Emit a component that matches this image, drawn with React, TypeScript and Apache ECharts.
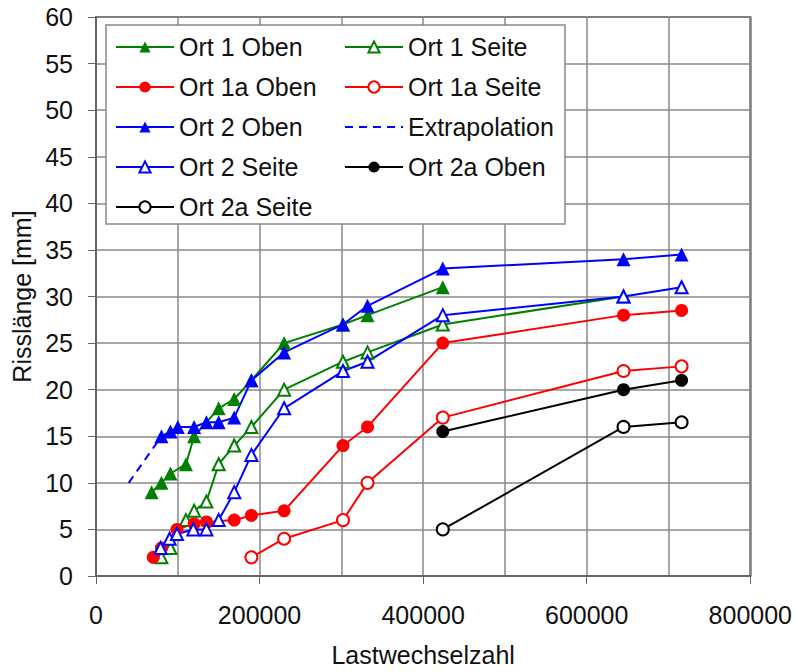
import React, { useEffect, useRef } from "react";
import * as echarts from "echarts";

const ort1Oben: number[][] = [[68000, 9], [80000, 10], [91000, 11], [110000, 12], [120000, 15], [150000, 18], [169000, 19], [190000, 21], [230000, 25], [302000, 27], [332000, 28], [424000, 31]];
const ort1Seite: number[][] = [[80000, 2], [91000, 3], [110000, 6], [120000, 7], [135000, 8], [150000, 12], [169000, 14], [190000, 16], [230000, 20], [302000, 23], [332000, 24], [424000, 27], [645000, 30]];
const ort1aOben: number[][] = [[70000, 2], [80000, 3], [99000, 5], [120000, 5.6], [135000, 5.8], [169000, 6], [190000, 6.5], [230000, 7], [302000, 14], [332000, 16], [424000, 25], [645000, 28], [716000, 28.5]];
const ort1aSeite: number[][] = [[190000, 2], [230000, 4], [302000, 6], [332000, 10], [424000, 17], [645000, 22], [716000, 22.5]];
const ort2Oben: number[][] = [[80000, 15], [91000, 15.5], [100000, 16], [120000, 16], [135000, 16.5], [150000, 16.5], [169000, 17], [190000, 21], [230000, 24], [302000, 27], [332000, 29], [424000, 33], [645000, 34], [716000, 34.5]];
const extrapolation: number[][] = [[40000, 10], [80000, 15]];
const ort2Seite: number[][] = [[79000, 3], [90000, 4], [99000, 4.5], [119000, 5], [135000, 5], [150000, 6], [169000, 9], [190000, 13], [230000, 18], [302000, 22], [332000, 23], [424000, 28], [645000, 30], [716000, 31]];
const ort2aOben: number[][] = [[424000, 15.5], [645000, 20], [716000, 21]];
const ort2aSeite: number[][] = [[424000, 5], [645000, 16], [716000, 16.5]];

const legendLeft = ["Ort 1 Oben", "Ort 1a Oben", "Ort 2 Oben", "Ort 2 Seite", "Ort 2a Seite"];
const legendRight = ["Ort 1 Seite", "Ort 1a Seite", "Extrapolation", "Ort 2a Oben"];

const FONT = "'Liberation Sans', Arial, sans-serif";
const GREEN = "#008000";
const RED = "#ff0000";
const BLUE = "#0000ff";
const BLACK = "#000000";

function mk(name: string, data: number[][], color: string, symbol: string, size: number, dashed = false): any {
  return {
    name,
    type: "line",
    data,
    symbol,
    symbolSize: size,
    showSymbol: symbol !== "none",
    lineStyle: { color, width: 2, type: dashed ? [8, 6] : "solid" },
    itemStyle: { color, borderColor: color, borderWidth: symbol.startsWith("empty") ? 2 : 0 },
    emphasis: { disabled: true },
  };
}

export default function App() {
  const ref = useRef<HTMLDivElement>(null);
  useEffect(() => {
    if (!ref.current) return;
    const chart = echarts.init(ref.current, undefined, { renderer: "svg" });
    const legendCommon = {
      orient: "vertical",
      itemWidth: 58,
      itemHeight: 14,
      itemGap: 14,
      itemTextGap: 6,
      textStyle: { fontFamily: FONT, fontSize: 25, color: "#111", lineHeight: 26 },
      selectedMode: false,
      z: 10,
    };
    const rightData = legendRight.map((n) =>
      n === "Extrapolation"
        ? { name: n, itemStyle: { color: "transparent", borderColor: "transparent", borderWidth: 0 } }
        : n
    );
    chart.setOption({
      animation: false,
      backgroundColor: "#fff",
      grid: { left: 96, right: 44, top: 17, bottom: 94, show: true, borderColor: "#666", borderWidth: 2, backgroundColor: "transparent" },
      graphic: {
        elements: [
          {
            type: "rect",
            z: 5,
            shape: { x: 106, y: 25, width: 459, height: 199 },
            style: { fill: "#fff", stroke: "#888", lineWidth: 1.5 },
          },
        ],
      },
      legend: [
        { ...legendCommon, data: legendLeft, left: 110, top: 29 },
        { ...legendCommon, data: rightData, left: 339, top: 29 },
      ],
      xAxis: {
        type: "value",
        min: 0,
        max: 800000,
        interval: 200000,
        name: "Lastwechselzahl",
        nameLocation: "middle",
        nameGap: 66,
        nameTextStyle: { fontFamily: FONT, fontSize: 25, color: "#111", verticalAlign: "top" },
        axisLine: { show: true, lineStyle: { color: "#666", width: 2 } },
        axisTick: { show: true, inside: false, length: 8, lineStyle: { color: "#666", width: 1 } },
        axisLabel: { fontFamily: FONT, fontSize: 25, color: "#111", margin: 26, formatter: (v: number) => String(v) },
        splitLine: { show: true, lineStyle: { color: "#8a8a8a", width: 1.5 } },
        minorTick: { show: false, splitNumber: 2 },
        minorSplitLine: { show: true, lineStyle: { color: "#8a8a8a", width: 1.5 } },
      },
      yAxis: {
        type: "value",
        min: 0,
        max: 60,
        interval: 5,
        name: "Risslänge [mm]",
        nameLocation: "middle",
        nameGap: 58,
        nameTextStyle: { fontFamily: FONT, fontSize: 25, color: "#111" },
        axisLine: { show: true, lineStyle: { color: "#666", width: 2 } },
        axisTick: { show: true, inside: false, length: 8, lineStyle: { color: "#666", width: 1 } },
        axisLabel: { fontFamily: FONT, fontSize: 25, color: "#111", margin: 23 },
        splitLine: { show: true, lineStyle: { color: "#8a8a8a", width: 1.5 } },
      },
      series: [
        mk("Ort 1 Oben", ort1Oben, GREEN, "triangle", 14),
        mk("Ort 1 Seite", ort1Seite, GREEN, "emptyTriangle", 12),
        mk("Ort 1a Oben", ort1aOben, RED, "circle", 13),
        mk("Ort 1a Seite", ort1aSeite, RED, "emptyCircle", 12),
        mk("Ort 2 Oben", ort2Oben, BLUE, "triangle", 14),
        mk("Extrapolation", extrapolation, BLUE, "none", 0, true),
        mk("Ort 2 Seite", ort2Seite, BLUE, "emptyTriangle", 12),
        mk("Ort 2a Oben", ort2aOben, BLACK, "circle", 13),
        mk("Ort 2a Seite", ort2aSeite, BLACK, "emptyCircle", 12),
      ],
    });
    return () => chart.dispose();
  }, []);
  return <div ref={ref} style={{ width: 795, height: 672, position: "absolute", left: 0, top: 0 }} />;
}
